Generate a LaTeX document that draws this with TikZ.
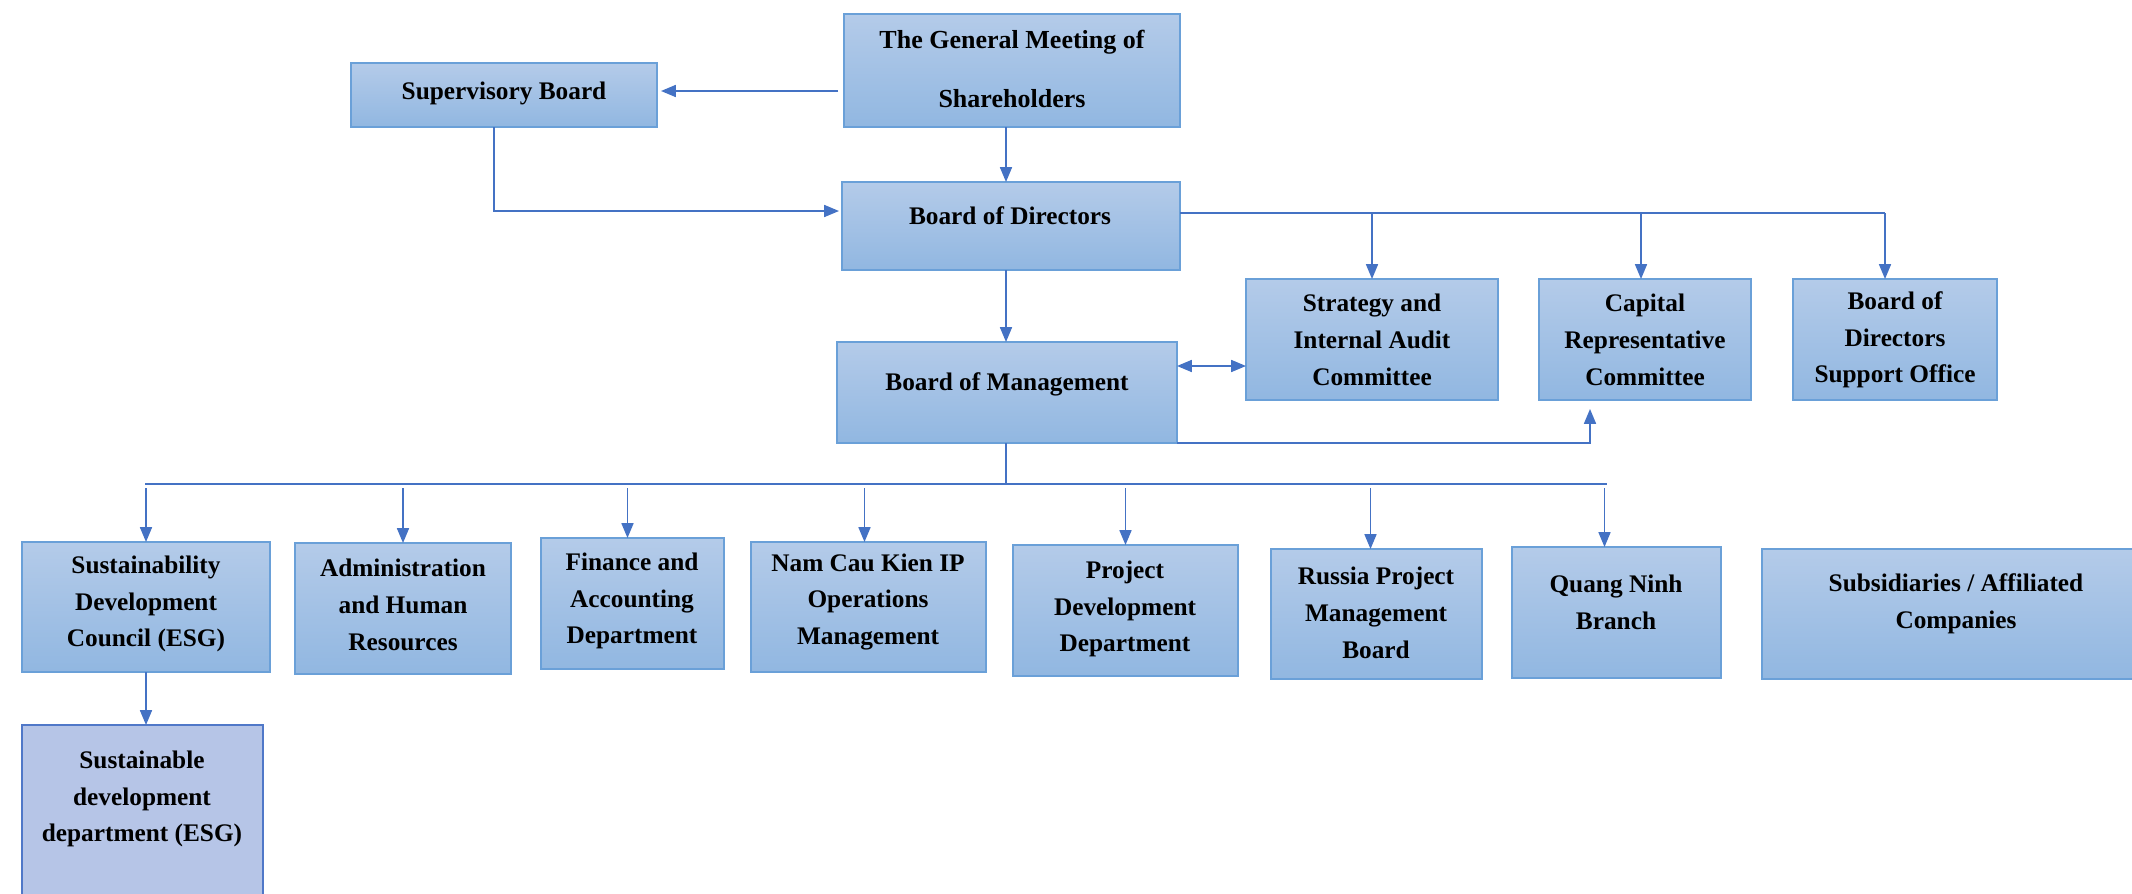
\documentclass[tikz,border=0pt]{standalone}
\usepackage{fontspec}
\setmainfont{Liberation Serif}
\usetikzlibrary{arrows.meta,calc,fit}
\definecolor{boxtop}{RGB}{180,203,233}
\definecolor{boxbot}{RGB}{145,183,225}
\definecolor{boxline}{RGB}{106,160,216}
\definecolor{esgfill}{RGB}{182,197,231}
\definecolor{esgline}{RGB}{80,120,200}
\definecolor{conn}{RGB}{68,114,196}
\tikzset{
  orgbox/.style={draw=boxline, line width=1.1pt, top color=boxtop, bottom color=boxbot, inner sep=0pt, outer sep=0pt},
  esgbox/.style={draw=esgline, line width=1.1pt, fill=esgfill, inner sep=0pt, outer sep=0pt},
  lbl/.style={align=center, font=\bfseries\fontsize{18}{26.1}\selectfont, inner sep=0pt, text=black},
  wide/.style={font=\bfseries\fontsize{18.5}{42.5}\selectfont},
  conline/.style={draw=conn, line width=1.1pt},
  arr/.style={conline, -{Triangle[length=10.5pt,width=8.5pt]}},
  arrtwo/.style={conline, {Triangle[length=10.5pt,width=8.5pt]}-{Triangle[length=10.5pt,width=8.5pt]}}
}
\begin{document}
\begin{tikzpicture}[x=0.025cm, y=-0.025cm]
\clip (0,0) rectangle (2132,894);
\fill[white] (0,0) rectangle (2132,894);
% top
\node[orgbox, fit={(844,14) (1180,127)}] (gms) {};
\node[lbl, wide] (gmst) at (1012,69) {The General Meeting of\\Shareholders};
\node[orgbox, fit={(351,63) (657,127)}] (sup) {};
\node[lbl] (supt) at (504,93) {Supervisory Board};
\node[orgbox, fit={(842,182) (1180,270)}] (bod) {};
\node[lbl] (bodt) at (1010,216) {Board of Directors};
\node[orgbox, fit={(837,342) (1177,443)}] (bom) {};
\node[lbl] (bomt) at (1007,384) {Board of Management};
\node[orgbox, fit={(1246,279) (1498,400)}] (strat) {};
\node[lbl] (stratt) at (1372,340) {Strategy and\\Internal Audit\\Committee};
\node[orgbox, fit={(1539,279) (1751,400)}] (cap) {};
\node[lbl] (capt) at (1645,340) {Capital\\Representative\\Committee};
\node[orgbox, fit={(1793,279) (1997,400)}] (supp) {};
\node[lbl] (suppt) at (1895,340) {Board of\\Directors\\Support Office};
% bottom row
\node[orgbox, fit={(22,542) (270,672)}] (sdc) {};
\node[lbl] (sdct) at (146,604) {Sustainability\\Development\\Council (ESG)};
\node[orgbox, fit={(295,543) (511,674)}] (adm) {};
\node[lbl] (admt) at (403,605) {Administration\\and Human\\Resources};
\node[orgbox, fit={(541,538) (724,669)}] (fin) {};
\node[lbl] (fint) at (632,601) {Finance and\\Accounting\\Department};
\node[orgbox, fit={(751,542) (986,672)}] (nck) {};
\node[lbl] (nckt) at (868,602) {Nam Cau Kien IP\\Operations\\Management};
\node[orgbox, fit={(1013,545) (1238,676)}] (pdd) {};
\node[lbl] (pddt) at (1125,609) {Project\\Development\\Department};
\node[orgbox, fit={(1271,549) (1482,679)}] (rus) {};
\node[lbl] (rust) at (1376,613) {Russia Project\\Management\\Board};
\node[orgbox, fit={(1512,547) (1721,678)}] (qn) {};
\node[lbl] (qnt) at (1616,602) {Quang Ninh\\Branch};
\node[orgbox, fit={(1762,549) (2150,679)}] (subs) {};
\node[lbl] (subst) at (1956,604) {Subsidiaries / Affiliated\\Companies};
\node[esgbox, fit={(22,725) (263,910)}] (sdd) {};
\node[lbl] (sddt) at (142,799) {Sustainable\\development\\department (ESG)};
% coordinates
\coordinate (spine) at (1006,0);
\coordinate (hr) at (1885,213);
\coordinate (bmR) at (1177,366);
\coordinate (busL) at (145,484);
\coordinate (busR) at (1607,484);
\coordinate (sbx) at (494,211);
% connectors top
\draw[arr] ($(gms.west |- 0,91)+(-6,0)$) -- ($(sup.east |- 0,91)+(4,0)$);
\draw[arr] (gms.south -| spine) -- (bod.north -| spine);
\draw[arr] (bod.south -| spine) -- (bom.north -| spine);
\draw[arr] (sup.south -| sbx) |- ($(bod.west |- sbx)+(-3,0)$);
\draw[conline] (bod.east |- hr) -- (hr);
\draw[arr] (strat.north |- hr) -- (strat.north);
\draw[arr] ($(cap.north |- hr)+(-4,0)$) -- ($(cap.north)+(-4,0)$);
\draw[arr] (hr) -- (hr |- supp.north);
\draw[arrtwo] (bmR) -- (bmR -| strat.west);
\draw[arr] (bom.south east) -| ($(cap.south)+(-55,9)$);
% bus
\draw[conline] (bom.south -| spine) -- (spine |- busL);
\draw[conline] (busL) -- (busR);
\foreach \b/\dx in {sdc/0, adm/0, fin/-5, nck/-4, pdd/0, rus/-6, qn/-12}
  \draw[arr] ($(\b.north |- busL)+(\dx,4)$) -- ($(\b.north)+(\dx,0)$);
\draw[arr] (sdc.south) -- (sdc.south |- sdd.north);
\end{tikzpicture}
\end{document}
